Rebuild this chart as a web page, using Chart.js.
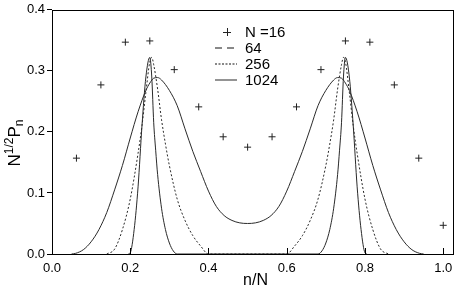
<!DOCTYPE html>
<html lang="en">
<head>
<meta charset="UTF-8">
<title>N^1/2 Pn vs n/N</title>
<script src="https://cdn.jsdelivr.net/npm/chart.js"></script>
<style>
    body { margin: 0; background: #fff; }
</style>
</head>
<body>
<canvas id="grafico" width="463" height="294"></canvas>
<script>
    // N = 16 (markers)
    let x16 = [0.0625, 0.125, 0.1875, 0.25, 0.3125, 0.375, 0.4375, 0.5, 0.5625, 0.625, 0.6875, 0.75, 0.8125, 0.875, 0.9375, 1.0];
    let p16 = [0.157, 0.277, 0.347, 0.349, 0.302, 0.241, 0.192, 0.175, 0.192, 0.241, 0.302, 0.349, 0.347, 0.277, 0.157, 0.047];

    // N = 64
    let x64 = [0.05, 0.06, 0.08, 0.10, 0.12, 0.14, 0.16, 0.18, 0.20, 0.22, 0.24, 0.25, 0.26, 0.27, 0.28, 0.30, 0.32, 0.34, 0.36, 0.38, 0.40, 0.42, 0.44, 0.46, 0.48, 0.50,
               0.52, 0.54, 0.56, 0.58, 0.60, 0.62, 0.64, 0.66, 0.68, 0.70, 0.72, 0.73, 0.74, 0.75, 0.76, 0.78, 0.80, 0.82, 0.84, 0.86, 0.88, 0.90, 0.92, 0.94, 0.95];
    let p64 = [0, 0.001, 0.007, 0.02, 0.04, 0.068, 0.105, 0.145, 0.19, 0.233, 0.268, 0.28, 0.288, 0.289, 0.285, 0.268, 0.243, 0.205, 0.168, 0.135, 0.103, 0.078, 0.063, 0.055, 0.051, 0.05,
               0.051, 0.055, 0.063, 0.078, 0.103, 0.135, 0.168, 0.205, 0.243, 0.268, 0.285, 0.289, 0.288, 0.28, 0.268, 0.233, 0.19, 0.145, 0.105, 0.068, 0.04, 0.02, 0.007, 0.001, 0];

    // N = 256
    let x256 = [0.14, 0.16, 0.18, 0.20, 0.22, 0.23, 0.24, 0.25, 0.255, 0.26, 0.27, 0.28, 0.29, 0.30, 0.32, 0.34, 0.36, 0.38, 0.40,
                0.60, 0.62, 0.64, 0.66, 0.68, 0.70, 0.71, 0.72, 0.73, 0.74, 0.745, 0.75, 0.76, 0.77, 0.78, 0.80, 0.82, 0.84, 0.86];
    let p256 = [0, 0.008, 0.04, 0.09, 0.165, 0.21, 0.265, 0.315, 0.322, 0.31, 0.27, 0.22, 0.18, 0.145, 0.09, 0.055, 0.03, 0.013, 0,
                0, 0.013, 0.03, 0.055, 0.09, 0.145, 0.18, 0.22, 0.27, 0.31, 0.322, 0.315, 0.265, 0.21, 0.165, 0.09, 0.04, 0.008, 0];

    // N = 1024
    let x1024 = [0.195, 0.20, 0.21, 0.22, 0.23, 0.24, 0.25, 0.255, 0.26, 0.265, 0.27, 0.28, 0.29, 0.30, 0.31, 0.32,
                 0.68, 0.69, 0.70, 0.71, 0.72, 0.73, 0.735, 0.74, 0.745, 0.75, 0.76, 0.77, 0.78, 0.79, 0.80, 0.805];
    let p1024 = [0, 0.002, 0.04, 0.11, 0.21, 0.29, 0.322, 0.29, 0.215, 0.17, 0.13, 0.075, 0.04, 0.018, 0.005, 0,
                 0, 0.005, 0.018, 0.04, 0.075, 0.13, 0.17, 0.215, 0.29, 0.322, 0.29, 0.21, 0.11, 0.04, 0.002, 0];

    let legendas = ["N =16", "64", "256", "1024"];
    let xTicks = { min: 0, max: 1.025, step: 0.2 };
    let yTicks = { min: 0, max: 0.4, step: 0.1 };

    const fonte = "'Liberation Sans', Arial, Helvetica, sans-serif";

    function pontos(xs, ys) {
        return xs.map((x, i) => ({ x: x, y: ys[i] }));
    }

    // frame, inward x ticks, legend and axis titles
    const extras = {
        id: 'extras',
        afterDraw(chart) {
            const ctx = chart.ctx, a = chart.chartArea, sx = chart.scales.x;
            ctx.save();
            ctx.strokeStyle = '#000';
            ctx.lineWidth = 1;
            ctx.strokeRect(Math.round(a.left) + 0.5, Math.round(a.top) + 0.5, Math.round(a.right - a.left), Math.round(a.bottom - a.top));
            ctx.beginPath();
            sx.ticks.forEach(t => {
                let px = Math.round(sx.getPixelForValue(t.value)) + 0.5;
                ctx.moveTo(px, a.bottom);
                ctx.lineTo(px, a.bottom - 6);
            });
            ctx.stroke();

            // legend
            ctx.fillStyle = '#000';
            ctx.font = "15px " + fonte;
            ctx.textBaseline = 'middle';
            ctx.textAlign = 'left';
            let linhaY = [32, 48, 64, 80];
            let dashes = [null, [7, 5], [2, 1.5], []];
            legendas.forEach((txt, i) => {
                let y = linhaY[i];
                ctx.beginPath();
                if (i == 0) {
                    ctx.strokeStyle = '#222';
                    ctx.lineWidth = 1;
                    ctx.setLineDash([]);
                    ctx.moveTo(223, y + 0.5); ctx.lineTo(231, y + 0.5);
                    ctx.moveTo(227.5, y - 4); ctx.lineTo(227.5, y + 4);
                } else {
                    ctx.strokeStyle = '#888';
                    ctx.lineWidth = 1.8;
                    ctx.setLineDash(dashes[i]);
                    ctx.moveTo(215, y); ctx.lineTo(237, y);
                }
                ctx.stroke();
                ctx.fillText(txt, 245, y + 1);
            });
            ctx.setLineDash([]);

            // x title
            ctx.font = "16px " + fonte;
            ctx.textAlign = 'center';
            ctx.fillText("n/N", (a.left + a.right) / 2 + 3, 281);

            // y title N^{1/2}P_n
            ctx.translate(15, 143);
            ctx.rotate(-Math.PI / 2);
            let grande = "17px " + fonte, pequena = "12px " + fonte;
            let partes = [["N", grande, 0], ["1/2", pequena, -5], ["P", grande, 0], ["n", pequena, 5]];
            let total = 0;
            partes.forEach(p => { ctx.font = p[1]; total += ctx.measureText(p[0]).width; });
            let cx = -total / 2;
            ctx.textAlign = 'left';
            partes.forEach(p => {
                ctx.font = p[1];
                ctx.fillText(p[0], cx, p[2]);
                cx += ctx.measureText(p[0]).width;
            });
            ctx.restore();
        }
    };

    function showGraph(c) {
        let linha = {
            showLine: true,
            pointRadius: 0,
            borderColor: '#2a2a2a',
            borderWidth: 1,
            cubicInterpolationMode: 'monotone',
            fill: false
        };
        new Chart(document.getElementById(c), {
            type: 'scatter',
            data: {
                datasets: [
                    {
                        label: legendas[0],
                        data: pontos(x16, p16),
                        showLine: false,
                        pointStyle: 'cross',
                        pointRadius: 3.5,
                        borderColor: '#222',
                        backgroundColor: '#222',
                        borderWidth: 1
                    },
                    Object.assign({ label: legendas[1], data: pontos(x64, p64) }, linha),
                    Object.assign({ label: legendas[2], data: pontos(x256, p256), borderDash: [2, 2] }, linha),
                    Object.assign({ label: legendas[3], data: pontos(x1024, p1024) }, linha)
                ]
            },
            options: {
                responsive: false,
                animation: false,
                layout: { padding: { top: 8, right: 10, left: 0, bottom: 0 } },
                plugins: {
                    legend: { display: false },
                    tooltip: { enabled: false }
                },
                scales: {
                    x: {
                        type: 'linear',
                        min: xTicks.min,
                        max: xTicks.max,
                        ticks: {
                            stepSize: xTicks.step,
                            includeBounds: false,
                            maxRotation: 0,
                            padding: 7,
                            color: '#000',
                            font: { size: 13, family: fonte },
                            callback: v => v.toFixed(1)
                        },
                        grid: { display: false, drawTicks: false },
                        border: { display: false },
                        afterFit: s => { s.height = 40; }
                    },
                    y: {
                        min: yTicks.min,
                        max: yTicks.max,
                        ticks: {
                            stepSize: yTicks.step,
                            padding: 2,
                            color: '#000',
                            font: { size: 13, family: fonte },
                            callback: v => v.toFixed(1)
                        },
                        grid: { drawOnChartArea: false, drawTicks: true, tickLength: 5, color: '#000' },
                        border: { display: false },
                        afterFit: s => { s.width = 52; }
                    }
                }
            },
            plugins: [extras]
        });
    }

    showGraph('grafico');
</script>
</body>
</html>
